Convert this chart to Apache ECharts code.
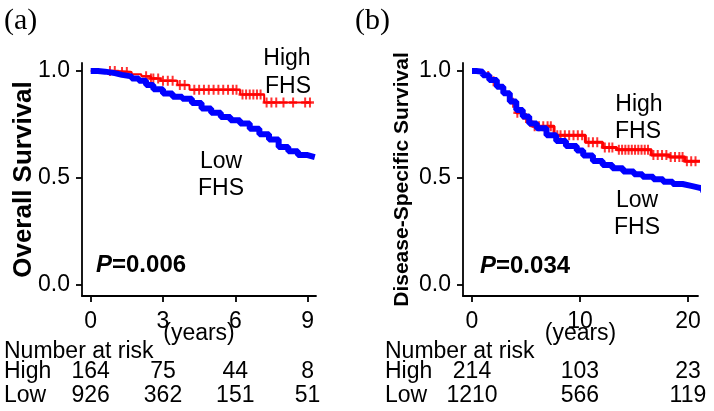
<!DOCTYPE html>
<html><head><meta charset="utf-8">
<script src="https://cdn.jsdelivr.net/npm/echarts@6.0.0/dist/echarts.min.js"></script>
<style>html,body{margin:0;padding:0;background:#fff}#c{width:714px;height:411px}</style>
</head><body><div id="c"></div>
<script>
// ---------- data ----------
// Panel (a): Overall survival, Kaplan-Meier steps [years, survival]
const aHighSteps = [[0,1],[1.1,0.995],[1.7,0.985],[2.1,0.975],[2.5,0.965],[2.9,0.955],[3.6,0.935],[4.1,0.912],[6.2,0.89],[7.2,0.853],[9.15,0.853]];
const aHighCensor = [0.8,1.0,1.3,1.5,2.3,2.5,2.6,2.8,3.0,3.2,3.4,3.7,3.9,4.3,4.5,4.7,4.9,5.1,5.3,5.5,5.7,5.9,6.05,6.3,6.45,6.6,6.75,6.9,7.05,7.3,7.5,7.7,8.0,8.4,8.9,9.1];
const aLowSteps = [[0,1],[0.3,0.997],[0.6,0.99],[1.0,0.982],[1.3,0.975],[1.7,0.965],[2.0,0.955],[2.3,0.935],[2.6,0.915],[3.0,0.895],[3.4,0.88],[3.8,0.87],[4.2,0.85],[4.6,0.825],[5.0,0.805],[5.4,0.785],[5.8,0.77],[6.2,0.755],[6.6,0.73],[7.0,0.705],[7.4,0.68],[7.8,0.645],[8.2,0.625],[8.6,0.607],[9.0,0.598],[9.3,0.595]];
const aTicks = [0,3,6,9];
const aRiskHigh = [164,75,44,8];
const aRiskLow = [926,362,151,51];

// Panel (b): Disease-specific survival
const bHighSteps = [[0,1],[0.5,0.995],[1.1,0.977],[1.7,0.952],[2.3,0.93],[2.9,0.893],[3.5,0.852],[4.1,0.805],[4.7,0.78],[5.2,0.762],[5.6,0.742],[7.6,0.70],[10.5,0.667],[12.1,0.642],[13.4,0.632],[16.6,0.608],[18.3,0.598],[19.7,0.578],[21.2,0.578]];
const bHighCensor = [1.5,2.0,3.8,4.2,5.0,5.4,5.8,6.2,6.6,7.0,7.3,7.9,8.2,8.6,9.0,9.4,9.8,10.2,10.8,11.2,11.6,12.3,12.7,13.0,13.6,13.9,14.2,14.5,14.8,15.1,15.4,15.7,16.0,16.3,16.8,17.2,17.6,18.0,18.4,18.8,19.2,19.5,19.9,20.3,20.7,21.0];
const bLowSteps = [[0,1],[0.4,0.997],[1.0,0.98],[1.6,0.958],[2.3,0.927],[2.9,0.896],[3.5,0.857],[4.1,0.818],[4.7,0.787],[5.3,0.755],[6.0,0.732],[6.9,0.70],[7.8,0.673],[8.7,0.65],[9.7,0.628],[10.3,0.605],[11.2,0.58],[12.1,0.561],[13.0,0.545],[14.0,0.53],[15.0,0.517],[15.8,0.506],[16.8,0.494],[17.7,0.483],[18.6,0.472],[19.5,0.463],[20.3,0.455],[21.0,0.45],[21.4,0.432]];
const bTicks = [0,10,20];
const bRiskHigh = [214,103,23];
const bRiskLow = [1210,566,119];

const yTicks = [0,0.5,1];

// ---------- helpers ----------
function stepAt(steps, t){ let s = steps[0][1]; for (const p of steps){ if (p[0] <= t) s = p[1]; } return s; }
const plusPath = 'path://M3,0h2v3h3v2h-3v3h-2v-3h-3v-2h3z';
const FONT = "'Liberation Sans', Arial, sans-serif";
const RED = '#ff0000', BLUE = '#0000ff';

function xAxisCfg(grid, min, max, ticks){
  return {type:'value', gridIndex:grid, min:min, max:max,
    axisLine:{onZero:false, lineStyle:{color:'#000', width:1.8}},
    axisTick:{customValues:ticks, length:6, lineStyle:{color:'#000', width:1.8}},
    axisLabel:{customValues:ticks, color:'#000', fontSize:23, fontFamily:FONT, margin:14},
    splitLine:{show:false},
    name:'(years)', nameLocation:'middle', nameGap:26, nameMoveOverlap:false,
    nameTextStyle:{color:'#000', fontSize:23, fontFamily:FONT}};
}
function yAxisCfg(grid, name, size, gap){
  return {type:'value', gridIndex:grid, min:-0.0514, max:1.0374,
    axisLine:{onZero:false, lineStyle:{color:'#000', width:1.8}},
    axisTick:{customValues:yTicks, length:6, lineStyle:{color:'#000', width:1.8}},
    axisLabel:{customValues:yTicks, color:'#000', fontSize:23, fontFamily:FONT, margin:12, formatter:v=>v.toFixed(1)},
    splitLine:{show:false},
    name:name, nameLocation:'middle', nameRotate:90, nameGap:gap, nameMoveOverlap:false,
    nameTextStyle:{color:'#000', fontSize:size, fontWeight:'bold', fontFamily:FONT}};
}
function stepLine(xi, data, color, width){
  return {type:'line', xAxisIndex:xi, yAxisIndex:xi, step:'end', data:data, symbol:'none', clip:false,
    lineStyle:{color:color, width:width}, z:3};
}
function censor(xi, times, steps, color){
  return {type:'scatter', xAxisIndex:xi, yAxisIndex:xi, data:times.map(t=>[t, stepAt(steps,t)]),
    symbol:plusPath, symbolSize:[8,10], itemStyle:{color:color}, z:2};
}

const chart = echarts.init(document.getElementById('c'), null, {renderer:'canvas'});
chart.setOption({
  animation:false,
  backgroundColor:'#fff',
  grid:[{left:82, top:63, width:234, height:233},{left:463, top:63, width:235, height:233}],
  xAxis:[xAxisCfg(0,-0.361,9.35,aTicks), xAxisCfg(1,-0.833,20.93,bTicks)],
  yAxis:[yAxisCfg(0,'Overall Survival',26,45), yAxisCfg(1,'Disease-Specific Survival',21,50)],
  series:[
    stepLine(0, aHighSteps, RED, 2),
    censor(0, aHighCensor, aHighSteps, RED),
    stepLine(0, aLowSteps, BLUE, 6),
    stepLine(1, bHighSteps, RED, 3),
    censor(1, bHighCensor, bHighSteps, RED),
    stepLine(1, bLowSteps, BLUE, 6)
  ]
});

// ---------- text overlay ----------
function txt(x, y, text, opt){
  opt = opt || {};
  return {type:'text', x:x, y:y, z:10, style:Object.assign({text:text, fill:'#000', font:(opt.weight||'normal')+' '+(opt.size||23)+'px '+(opt.family||FONT),
    align:opt.align||'center', verticalAlign:'middle'}, opt.style||{})};
}
const g = [];
g.push(txt(4,21,'(a)',{align:'left', size:30, family:"'Liberation Serif', 'Times New Roman', serif"}));
g.push(txt(355,21,'(b)',{align:'left', size:30, family:"'Liberation Serif', 'Times New Roman', serif"}));
g.push(txt(287,59,'High')); g.push(txt(288,87,'FHS'));
g.push(txt(221,162,'Low')); g.push(txt(221,189,'FHS'));
g.push(txt(639,105,'High')); g.push(txt(638,132,'FHS'));
g.push(txt(637,201,'Low')); g.push(txt(637,228,'FHS'));
function pval(x, y, v){
  return {type:'text', x:x, y:y, z:10, style:{text:'{i|P}{b|='+v+'}', align:'left', verticalAlign:'middle',
    rich:{i:{fontStyle:'italic', fontWeight:'bold', fontSize:24, fontFamily:FONT, fill:'#000'},
          b:{fontWeight:'bold', fontSize:24, fontFamily:FONT, fill:'#000'}}}};
}
g.push(pval(96,265,'0.006'));
g.push(pval(480,266,'0.034'));
// Number at risk tables
function riskTable(xi, left, ticks, hi, lo){
  g.push(txt(left,352,'Number at risk',{align:'left'}));
  g.push(txt(left,372,'High',{align:'left'}));
  g.push(txt(left,396,'Low',{align:'left'}));
  ticks.forEach((t,i)=>{
    const px = chart.convertToPixel({xAxisIndex:xi}, t);
    g.push(txt(px,372,String(hi[i])));
    g.push(txt(px,396,String(lo[i])));
  });
}
riskTable(0, 4, aTicks, aRiskHigh, aRiskLow);
riskTable(1, 385, bTicks, bRiskHigh, bRiskLow);
chart.setOption({graphic:g});
</script>
</body></html>
